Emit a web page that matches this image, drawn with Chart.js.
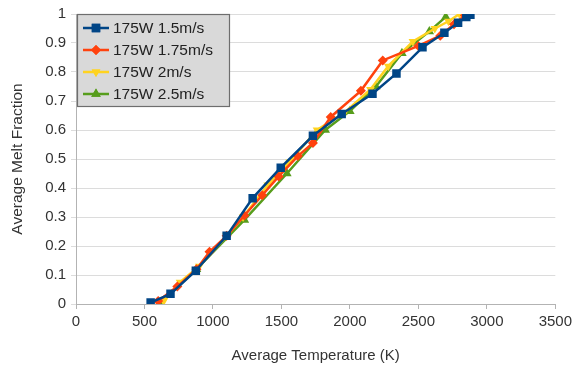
<!DOCTYPE html>
<html>
<head>
<meta charset="utf-8">
<script src="https://cdn.jsdelivr.net/npm/chart.js@4/dist/chart.umd.min.js"></script>
<style>
  html, body { margin: 0; padding: 0; background: #fff; }
  #wrap { width: 576px; height: 366px; }
</style>
</head>
<body>
<div id="wrap"><canvas id="meltChart" width="576" height="366"></canvas></div>
<script>
// series labels
const seriesNames = ['175W 1.5m/s', '175W 1.75m/s', '175W 2m/s', '175W 2.5m/s'];

// average temperature (K) / average melt fraction per run
const temp15 = [545, 690, 875, 1100, 1290, 1495, 1730, 1940, 2165, 2340, 2530, 2690, 2790, 2850, 2880];
const melt15 = [0.005, 0.035, 0.115, 0.235, 0.365, 0.47, 0.58, 0.655, 0.725, 0.795, 0.885, 0.935, 0.97, 0.99, 0.997];

const temp175 = [600, 740, 880, 975, 1100, 1230, 1360, 1480, 1620, 1730, 1860, 2080, 2240, 2500, 2660, 2760, 2840];
const melt175 = [0.01, 0.06, 0.12, 0.18, 0.235, 0.305, 0.375, 0.44, 0.51, 0.555, 0.645, 0.735, 0.84, 0.89, 0.925, 0.965, 0.995];

const temp2 = [640, 760, 900, 1100, 1220, 1400, 1560, 1760, 1960, 2150, 2280, 2460, 2620, 2720, 2800];
const melt2 = [0.01, 0.075, 0.13, 0.235, 0.3, 0.41, 0.49, 0.6, 0.66, 0.74, 0.82, 0.905, 0.95, 0.975, 1.0];

const temp25 = [620, 880, 1230, 1540, 1820, 2000, 2190, 2380, 2580, 2700];
const melt25 = [0.005, 0.12, 0.29, 0.45, 0.6, 0.665, 0.75, 0.865, 0.94, 0.99];

const colors = ['#004586', '#ff420e', '#ffd320', '#579d1c'];
const markers = [
    { style: 'rect', radius: 6, rotation: 0 },
    { style: 'rectRot', radius: 5, rotation: 0 },
    { style: 'triangle', radius: 5, rotation: 180 },
    { style: 'triangle', radius: 5.5, rotation: 0 }
];

const toPoints = (xs, ys) => xs.map((x, i) => ({ x: x, y: ys[i] }));
const allTemps = [temp15, temp175, temp2, temp25];
const allMelts = [melt15, melt175, melt2, melt25];

const FONT = "'Liberation Sans', Arial, sans-serif";
const TEXT = '#333333';

let datasets = seriesNames.map((name, i) => ({
    label: name,
    data: toPoints(allTemps[i], allMelts[i]),
    borderColor: colors[i],
    backgroundColor: colors[i],
    borderWidth: 2.5,
    pointStyle: markers[i].style,
    pointRadius: markers[i].radius,
    pointRotation: markers[i].rotation,
    pointBorderWidth: 0,
    showLine: true,
    tension: 0
}));

// grey legend box in the top left corner of the plot
const boxLegend = {
    id: 'boxLegend',
    afterDraw(chart) {
        const ctx = chart.ctx;
        const area = chart.chartArea;
        const x0 = area.left + 1, y0 = area.top, w = 153, h = 93;
        ctx.save();
        ctx.fillStyle = '#d9d9d9';
        ctx.fillRect(x0, y0, w, h);
        ctx.strokeStyle = '#6e6e6e';
        ctx.lineWidth = 1.2;
        ctx.strokeRect(x0 + 0.5, y0 + 0.5, w - 1, h - 1);
        ctx.font = '15.5px ' + FONT;
        ctx.textBaseline = 'middle';
        chart.data.datasets.forEach((ds, i) => {
            const cy = y0 + 14 + i * 22;
            ctx.strokeStyle = ds.borderColor;
            ctx.lineWidth = 2.5;
            ctx.beginPath();
            ctx.moveTo(x0 + 6, cy);
            ctx.lineTo(x0 + 32, cy);
            ctx.stroke();
            ctx.fillStyle = ds.backgroundColor;
            ctx.beginPath();
            Chart.helpers.drawPoint(ctx, {
                pointStyle: ds.pointStyle,
                rotation: ds.pointRotation,
                radius: ds.pointRadius,
                borderWidth: 0
            }, x0 + 19, cy);
            ctx.fill();
            ctx.fillStyle = '#222';
            ctx.fillText(ds.label, x0 + 36, cy + 1);
        });
        ctx.restore();
    }
};

new Chart(document.getElementById('meltChart'), {
    type: 'scatter',
    data: { datasets: datasets },
    plugins: [boxLegend],
    options: {
        responsive: false,
        animation: false,
        layout: { padding: { left: 4, right: 20, top: 14, bottom: 0 } },
        plugins: {
            legend: { display: false },
            tooltip: { enabled: false }
        },
        scales: {
            x: {
                type: 'linear',
                min: 0,
                max: 3500,
                ticks: {
                    stepSize: 500, color: TEXT, font: { family: FONT, size: 15 }, padding: 4, maxRotation: 0,
                    callback: (v) => String(v)
                },
                grid: { display: true, drawOnChartArea: false, tickLength: 5, color: '#b3b3b3' },
                border: { color: '#b3b3b3' },
                title: { display: true, text: 'Average Temperature (K)', color: TEXT, font: { family: FONT, size: 15 }, padding: { top: 15, bottom: 1 } },
                afterFit(scale) { scale.height = 62; }
            },
            y: {
                min: 0,
                max: 1,
                ticks: {
                    stepSize: 0.1, color: TEXT, font: { family: FONT, size: 15 }, padding: 5,
                    callback: (v) => String(Number(v.toFixed(1)))
                },
                grid: { color: '#dcdcdc', tickLength: 5 },
                border: { color: '#b3b3b3' },
                title: { display: true, text: 'Average Melt Fraction', color: TEXT, font: { family: FONT, size: 15.5 }, padding: { bottom: 6 } },
                afterFit(scale) { scale.width = 72; }
            }
        }
    }
});
</script>
</body>
</html>
